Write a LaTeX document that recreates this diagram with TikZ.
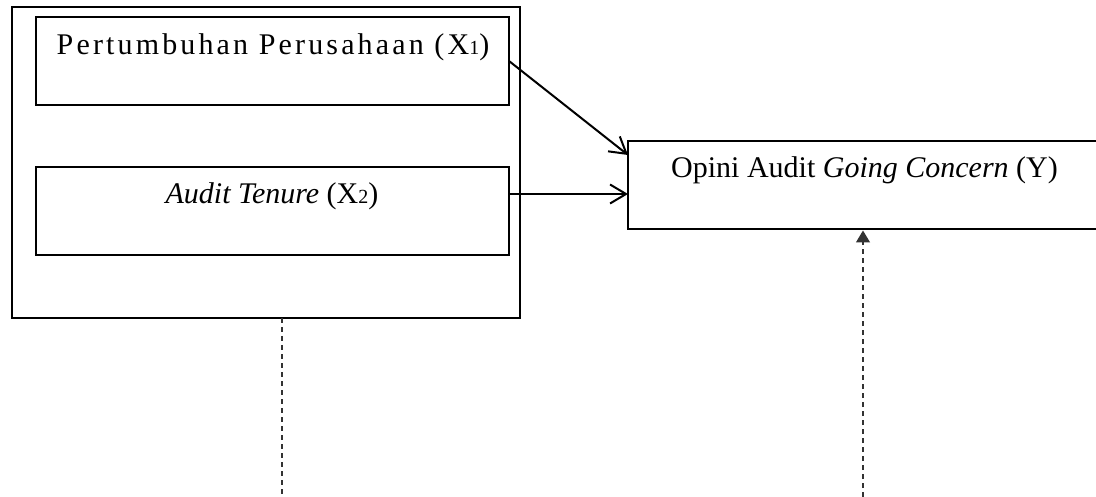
\documentclass[tikz,border=0pt]{standalone}
\usepackage{fontspec}
\setmainfont{Liberation Serif}
\usetikzlibrary{arrows.meta}
\newcommand{\lowidx}[1]{{\fontsize{20}{20}\selectfont #1}}
\begin{document}
\begin{tikzpicture}[x=1pt,y=-1pt,
  frame/.style={draw, line width=2.5pt, inner sep=0pt, outer sep=0pt},
  varbox/.style={draw, line width=2.4pt, inner sep=0pt, outer sep=0pt,
    minimum width=473pt, minimum height=88pt},
  label/.style={anchor=base, inner sep=0pt, font=\fontsize{30}{36}\selectfont},
  conn/.style={line width=2pt, -{Straight Barb[length=16pt,width=19pt,line width=2pt]}},
  depline/.style={line width=1.2pt, black!80, dash pattern=on 5pt off 4pt},
  deptip/.style={-{Triangle[length=12pt,width=14pt]}}]
\useasboundingbox (0,0) rectangle (1096,497);

% independent variables grouped in one frame
\node[frame, minimum width=508pt, minimum height=311pt] (grp) at (266,162.5) {};
\node[varbox] (b1) at (272.5,61) {};
\node[varbox] (b2) at (272.5,211) {};

% dependent variable (box runs past the right edge)
\node[frame, minimum width=482pt, minimum height=88pt] (y) at (869,185) {};

% texts
\node[label] (t1) at (273,55)
  {\addfontfeature{LetterSpace=10.5}Pertumbuhan Perusahaan (X\lowidx{1})};
\node[label] (t2) at (272,204) {\textit{Audit Tenure} (X\lowidx{2})};
\node[label, anchor=base west] (t3) at (671,178)
  {Opini Audit \textit{Going Concern} (Y)};

% partial effects
\draw[conn] (b1.east) -- ([yshift=30pt]y.west);
\draw[conn] ([yshift=17pt]b2.east) -- ([yshift=17pt]b2.east -| y.west);

% simultaneous effect
\coordinate (l0) at (282,497);
\coordinate (r0) at (863,497);
\draw[depline] ([xshift=16pt]grp.south) -- (l0);
\draw[depline, deptip] (r0) -- ([xshift=-6pt,yshift=-1.5pt]y.south);
\end{tikzpicture}
\end{document}
